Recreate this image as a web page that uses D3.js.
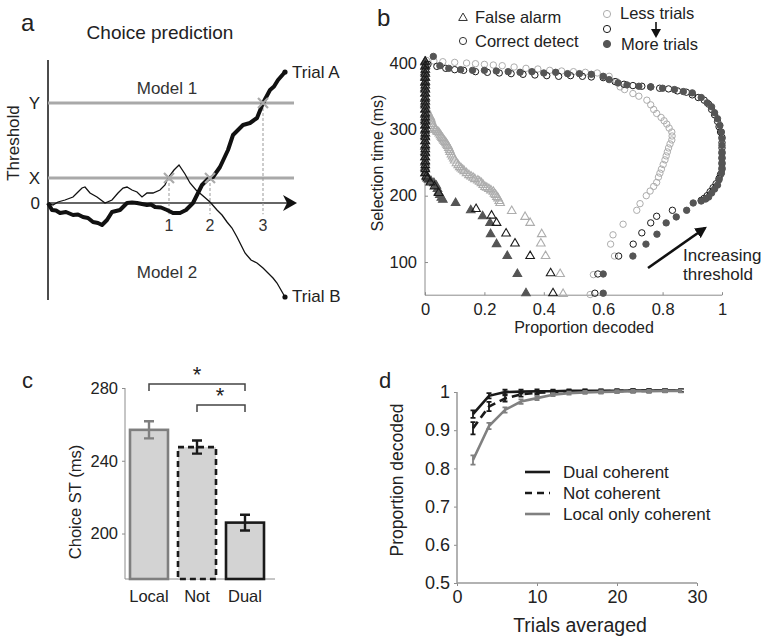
<!DOCTYPE html>
<html>
<head>
<meta charset="utf-8">
<script src="https://cdn.jsdelivr.net/npm/d3@7/dist/d3.min.js"></script>
<style>
  body { margin: 0; background: #fff; }
  svg { display: block; font-family: "Liberation Sans", Arial, sans-serif; }
  .axis path, .axis line { stroke: #8c8c8c; }
  .axis text { fill: #222; font-family: "Liberation Sans", Arial, sans-serif; }
</style>
</head>
<body>
<div id="fig"></div>
<script>
// ---- panel a: two example trials [time, evidence]
var trialA = [[0, 0], [4, -0.28], [8, -0.3], [12, -0.4], [18, -0.36], [25, -0.48], [30, -0.46], [35, -0.56],
  [40, -0.6], [45, -0.76], [50, -0.8], [54, -0.88], [59, -0.68], [64, -0.36], [68, -0.32], [72, -0.28],
  [76, -0.12], [79, 0], [84, 0.02], [89, 0], [94, -0.04], [99, -0.08], [103, -0.06], [107, -0.16],
  [113, -0.18], [119, -0.28], [125, -0.4], [132, -0.4], [138, -0.28], [145, 0], [150, 0.4], [154, 0.72],
  [160, 0.96], [165, 1.04], [172, 1.44], [180, 2.12], [185, 2.72], [190, 2.92], [195, 3.12], [202, 3.2],
  [209, 3.4], [215, 4.0], [222, 4.52], [226, 4.66], [230, 4.92], [237, 5.24]];
var trialB = [[0, 0], [5, -0.08], [10, 0.04], [17, 0.12], [25, 0.24], [30, 0.44], [34, 0.6], [37, 0.64],
  [42, 0.4], [49, 0.24], [57, 0], [64, 0.12], [70, 0.4], [75, 0.6], [79, 0.64], [84, 0.52], [89, 0.44],
  [94, 0.24], [99, 0.4], [105, 0.4], [112, 0.52], [117, 0.72], [120, 1.0], [126, 1.32], [131, 1.52],
  [137, 1.16], [142, 0.8], [148, 0.52], [154, 0.32], [162, 0.04], [169, -0.28], [174, -0.48], [179, -0.76],
  [184, -1.0], [189, -1.36], [197, -2.0], [203, -2.28], [209, -2.4], [215, -2.6], [220, -2.8],
  [225, -3.0], [229, -3.2], [237, -3.76]];
var thresholds = [1, 4];
var thresholdNames = ["X", "Y"];
var crossTimes = [121, 162, 215];
var crossLevels = [1, 1, 4];
var crossNames = ["1", "2", "3"];

// ---- panel b: [proportion decoded, selection time]
var faLess = [[0, 400], [0, 380], [0, 360], [0, 340], [0.005, 330], [0.009, 326], [0.012, 322], [0.015, 320],
  [0.018, 318], [0.02, 315], [0.022, 312], [0.025, 308], [0.028, 305], [0.031, 302], [0.034, 300],
  [0.037, 299], [0.04, 297], [0.044, 296], [0.048, 294], [0.052, 291], [0.055, 289], [0.058, 287],
  [0.061, 285], [0.064, 283], [0.068, 281], [0.071, 279], [0.074, 277], [0.077, 275], [0.08, 272],
  [0.083, 269], [0.085, 266], [0.089, 262], [0.093, 259], [0.097, 256], [0.1, 253], [0.106, 249],
  [0.112, 246], [0.117, 243], [0.122, 241], [0.127, 239], [0.132, 237], [0.14, 234], [0.148, 231],
  [0.155, 229], [0.162, 227], [0.168, 225], [0.178, 223], [0.184, 221], [0.19, 219], [0.196, 216],
  [0.202, 213], [0.208, 212], [0.215, 210], [0.222, 208], [0.23, 206], [0.234, 203], [0.238, 201],
  [0.242, 198], [0.246, 196], [0.25, 192], [0.253, 189],
  [0.292, 177], [0.337, 168], [0.354, 159], [0.393, 142], [0.39, 128], [0.406, 109], [0.455, 82], [0.465, 52]];
var faMid = [[0.001, 402], [0.001, 396], [0.001, 390], [0.001, 384], [0.001, 378], [0.001, 372], [0.001, 366],
  [0.001, 360], [0.001, 354], [0.001, 348], [0.001, 342], [0.001, 336], [0.001, 330], [0.001, 324],
  [0.001, 318], [0.001, 312], [0.001, 306], [0.001, 300], [0.001, 294], [0.001, 288], [0.001, 282],
  [0.001, 276], [0.001, 270], [0.001, 264], [0.001, 258], [0.001, 252], [0.001, 246], [0.001, 240],
  [0.001, 234], [0.004, 229], [0.008, 226], [0.018, 220], [0.032, 214], [0.046, 204],
  [0.172, 180], [0.224, 170], [0.241, 159], [0.273, 143], [0.303, 128], [0.354, 109], [0.423, 83], [0.431, 53]];
var faMore = [[0, 402], [0, 394], [0, 386], [0, 378], [0, 370], [0, 362], [0, 354], [0, 346], [0, 338],
  [0, 330], [0, 322], [0, 314], [0, 306], [0, 298], [0, 290], [0, 282], [0, 274], [0, 266], [0, 258],
  [0, 250], [0, 242], [0, 234], [0.006, 228], [0.012, 224], [0.02, 222], [0.03, 219], [0.038, 215],
  [0.042, 210], [0.045, 205], [0.05, 201], [0.055, 197], [0.06, 194],
  [0.103, 189], [0.154, 178], [0.194, 169], [0.219, 159], [0.221, 142], [0.241, 127], [0.277, 109],
  [0.311, 82], [0.34, 53]];
var cdLess = [[0.005, 404], [0.03, 403], [0.06, 402], [0.1, 401], [0.14, 400], [0.17, 399], [0.2, 398],
  [0.23, 397], [0.26, 396], [0.3, 394], [0.34, 392], [0.38, 391], [0.42, 389], [0.46, 388], [0.5, 387],
  [0.54, 386], [0.58, 385], [0.62, 380], [0.645, 372], [0.657, 364], [0.672, 360], [0.7, 354], [0.72, 350],
  [0.747, 344], [0.76, 337], [0.77, 330], [0.78, 324], [0.795, 318], [0.805, 313], [0.814, 308],
  [0.822, 302], [0.831, 296], [0.832, 290], [0.831, 284], [0.825, 278], [0.82, 272], [0.816, 266],
  [0.812, 260], [0.808, 254], [0.802, 247], [0.796, 240], [0.791, 234], [0.786, 228], [0.78, 220],
  [0.77, 214], [0.758, 207], [0.745, 200], [0.724, 188], [0.713, 178], [0.667, 157], [0.633, 141],
  [0.625, 127], [0.638, 109], [0.567, 81], [0.556, 51]];
var cdMid = [[0.01, 398], [0.04, 395], [0.07, 392], [0.1, 390], [0.13, 389], [0.17, 387], [0.21, 386],
  [0.25, 385], [0.29, 384], [0.33, 383], [0.37, 382], [0.41, 381], [0.45, 380], [0.49, 381], [0.53, 380],
  [0.56, 379], [0.6, 378], [0.64, 372], [0.67, 368], [0.7, 366], [0.73, 365], [0.76, 364], [0.79, 362],
  [0.82, 361], [0.85, 358], [0.88, 356], [0.9, 352], [0.92, 348], [0.94, 344], [0.955, 338], [0.965, 330],
  [0.975, 322], [0.985, 312], [0.99, 304], [0.995, 296], [1, 288], [1, 280], [1, 272], [1, 264], [1, 256],
  [1, 248], [1, 240], [0.995, 232], [0.99, 226], [0.98, 218], [0.97, 212], [0.96, 206], [0.95, 200],
  [0.94, 196], [0.93, 193],
  [0.833, 178], [0.78, 169], [0.76, 159], [0.73, 144], [0.701, 127], [0.652, 109], [0.582, 82], [0.572, 53]];
var cdMore = [[0.028, 410], [0.05, 396], [0.08, 392], [0.12, 390], [0.16, 389], [0.2, 389], [0.24, 388],
  [0.28, 387], [0.32, 386], [0.36, 387], [0.4, 385], [0.44, 386], [0.48, 384], [0.52, 384], [0.56, 383],
  [0.6, 380], [0.62, 375], [0.65, 370], [0.68, 367], [0.72, 365], [0.76, 364], [0.8, 362], [0.84, 360],
  [0.87, 357], [0.9, 355], [0.93, 348], [0.95, 340], [0.965, 334], [0.975, 325], [0.985, 316], [0.993, 306],
  [0.998, 296], [1, 286], [1, 276], [1, 266], [1, 258], [1, 250], [1, 242], [0.998, 234], [0.99, 224],
  [0.985, 216], [0.975, 210], [0.965, 204], [0.955, 198], [0.945, 195], [0.93, 192],
  [0.903, 189], [0.881, 178], [0.846, 168], [0.812, 159], [0.781, 142], [0.744, 127], [0.7, 109],
  [0.6, 82], [0.6, 53]];
var bTicksX = [0, 0.2, 0.4, 0.6, 0.8, 1];
var bTicksY = [100, 200, 300, 400];

// ---- panel c
var groups = ["Local", "Not", "Dual"];
var choiceST = [257, 247.5, 206];
var choiceSE = [4.7, 3.6, 4.3];
var cTicks = [200, 240, 280];

// ---- panel d
var trialsAvg = [2, 4, 6, 8, 10, 12, 14, 16, 18, 20, 22, 24, 26, 28];
var dualCoh = [0.942, 0.99, 1.0, 1.001, 1.002, 1.002, 1.003, 1.003, 1.003, 1.003, 1.004, 1.004, 1.004, 1.004];
var notCoh = [0.905, 0.962, 0.983, 0.994, 0.998, 1.0, 1.001, 1.002, 1.002, 1.003, 1.003, 1.003, 1.004, 1.004];
var localCoh = [0.822, 0.911, 0.953, 0.975, 0.984, 0.993, 0.997, 0.999, 1.0, 1.001, 1.002, 1.002, 1.003, 1.003];
var dualErr = [0.006, 0.003, 0.002, 0.001, 0.001, 0, 0, 0, 0, 0, 0, 0, 0, 0];
var notErr = [0.012, 0.008, 0.004, 0.002, 0.001, 0, 0, 0, 0, 0, 0, 0, 0, 0];
var localErr = [0.008, 0.004, 0.003, 0.002, 0.001, 0, 0, 0, 0, 0, 0, 0, 0, 0];
var dTicksX = [0, 10, 20, 30];
var dTicksY = [0.5, 0.6, 0.7, 0.8, 0.9, 1];

var svg = d3.select("#fig")
  .append("svg")
  .attr("width", 764)
  .attr("height", 643);

var defs = svg.append("defs");
defs.append("marker")
  .attr("id", "head")
  .attr("viewBox", "0 0 10 10")
  .attr("refX", 8).attr("refY", 5)
  .attr("markerWidth", 4.5).attr("markerHeight", 4.5)
  .attr("orient", "auto")
  .append("path")
  .attr("d", "M0,0 L10,5 L0,10 z")
  .style("fill", "#111");

function label(g, x, y, txt, size, anchor, rot) {
  var t = g.append("text")
    .attr("x", x).attr("y", y)
    .attr("text-anchor", anchor || "start")
    .style("font-size", size + "px")
    .style("fill", "#222")
    .text(txt);
  if (rot) t.attr("transform", "rotate(-90," + x + "," + y + ")");
  return t;
}

// ================= panel a =================
var ga = svg.append("g");
var xa = d3.scaleLinear().domain([0, 250]).range([48, 298]);
var ya = d3.scaleLinear().domain([-4, 6]).range([303, 53]);

label(ga, 21, 31, "a", 24);
label(ga, 160, 39, "Choice prediction", 19, "middle");
label(ga, 19, 143, "Threshold", 17, "middle", true);

ga.append("line")
  .attr("x1", xa(0)).attr("x2", xa(0))
  .attr("y1", ya(5.72)).attr("y2", ya(-3.88))
  .style("stroke", "#111").style("stroke-width", 1.5);

ga.selectAll(".thr")
  .data(thresholds)
  .enter()
  .append("line")
  .attr("x1", xa(0)).attr("x2", xa(246))
  .attr("y1", function (d) { return ya(d); })
  .attr("y2", function (d) { return ya(d); })
  .style("stroke", "#a9a9a9").style("stroke-width", 3);

ga.selectAll(".thrlab")
  .data(thresholds)
  .enter()
  .append("text")
  .attr("x", 40)
  .attr("y", function (d) { return ya(d) + 6; })
  .attr("text-anchor", "end")
  .style("font-size", "17px").style("fill", "#222")
  .text(function (d, i) { return thresholdNames[i]; });
label(ga, 40, ya(0) + 6, "0", 17, "end");

// zero axis with arrow
ga.append("line")
  .attr("x1", xa(0)).attr("x2", xa(240))
  .attr("y1", ya(0)).attr("y2", ya(0))
  .style("stroke", "#333").style("stroke-width", 1.6);
ga.append("path")
  .attr("d", "M" + xa(249) + "," + ya(0) + " L" + xa(235) + "," + (ya(0) - 8) +
    " L" + xa(239) + "," + ya(0) + " L" + xa(235) + "," + (ya(0) + 8) + " Z")
  .style("fill", "#111");

// crossing markers
ga.selectAll(".drop")
  .data(crossTimes)
  .enter()
  .append("line")
  .attr("x1", function (d) { return xa(d); })
  .attr("x2", function (d) { return xa(d); })
  .attr("y1", function (d, i) { return ya(crossLevels[i]); })
  .attr("y2", ya(-0.45))
  .style("stroke", "#999").style("stroke-width", 1)
  .style("stroke-dasharray", "3,2");

ga.append("path")
  .datum(trialB)
  .attr("d", d3.line().x(function (d) { return xa(d[0]); }).y(function (d) { return ya(d[1]); }))
  .style("fill", "none").style("stroke", "#111").style("stroke-width", 1.3);
ga.append("path")
  .datum(trialA)
  .attr("d", d3.line().x(function (d) { return xa(d[0]); }).y(function (d) { return ya(d[1]); }))
  .style("fill", "none").style("stroke", "#111").style("stroke-width", 4)
  .style("stroke-linejoin", "round");

[trialA, trialB].forEach(function (tr) {
  var last = tr[tr.length - 1];
  ga.append("circle")
    .attr("cx", xa(last[0])).attr("cy", ya(last[1]))
    .attr("r", 2.6).style("fill", "#111");
});

crossTimes.forEach(function (t, i) {
  var cx = xa(t), cy = ya(crossLevels[i]);
  ga.append("path")
    .attr("d", "M" + (cx - 5) + "," + (cy - 5) + "L" + (cx + 5) + "," + (cy + 5) +
      "M" + (cx - 5) + "," + (cy + 5) + "L" + (cx + 5) + "," + (cy - 5))
    .style("stroke", "#aaa").style("stroke-width", 2.2);
  label(ga, cx, 231, crossNames[i], 16, "middle").style("fill", "#333");
});

label(ga, 292, 78, "Trial A", 17);
label(ga, 292, 302, "Trial B", 17);
label(ga, 167, 94, "Model 1", 17, "middle").style("fill", "#333");
label(ga, 167, 278, "Model 2", 17, "middle").style("fill", "#333");

// ================= panel b =================
var gb = svg.append("g");
var xb = d3.scaleLinear().domain([0, 1]).range([425, 722]);
var yb = d3.scaleLinear().domain([50, 410]).range([295.2, 56.4]);

gb.append("g")
  .attr("class", "axis")
  .attr("transform", "translate(0," + yb(50) + ")")
  .call(d3.axisBottom(xb).tickValues(bTicksX).tickSize(-3).tickPadding(8).tickFormat(d3.format("~g")))
  .selectAll("text").style("font-size", "16.5px");
gb.append("g")
  .attr("class", "axis")
  .attr("transform", "translate(" + xb(0) + ",0)")
  .call(d3.axisLeft(yb).tickValues(bTicksY).tickSize(-3).tickPadding(8))
  .selectAll("text").style("font-size", "16.5px");
gb.selectAll(".axis path").attr("d", null);
gb.append("path")
  .attr("d", "M" + xb(0) + "," + yb(410) + "V" + yb(50) + "H" + xb(1))
  .style("fill", "none").style("stroke", "#8c8c8c").style("stroke-width", 1);

label(gb, 377, 26, "b", 24);
label(gb, 383, 163, "Selection time (ms)", 16, "middle", true);
label(gb, 584, 333, "Proportion decoded", 16, "middle");

var tri = d3.symbol().type(d3.symbolTriangle).size(32);
var lightCol = "#adadad", blackCol = "#1a1a1a", darkCol = "#555";

function triangles(data, stroke, fill) {
  gb.append("g").selectAll("path")
    .data(data)
    .enter()
    .append("path")
    .attr("transform", function (d) { return "translate(" + xb(d[0]) + "," + yb(d[1]) + ")"; })
    .attr("d", tri)
    .style("fill", fill).style("stroke", stroke).style("stroke-width", 1.1);
}
function circles(data, stroke, fill) {
  gb.append("g").selectAll("circle")
    .data(data)
    .enter()
    .append("circle")
    .attr("cx", function (d) { return xb(d[0]); })
    .attr("cy", function (d) { return yb(d[1]); })
    .attr("r", 3.2)
    .style("fill", fill).style("stroke", stroke).style("stroke-width", 1);
}
triangles(faLess, lightCol, "none");
circles(cdLess, lightCol, "none");
triangles(faMore, darkCol, darkCol);
triangles(faMid, blackCol, "none");
circles(cdMid, blackCol, "none");
circles(cdMore, darkCol, darkCol);

// legend
gb.append("path").attr("transform", "translate(463,18)").attr("d", tri)
  .style("fill", "none").style("stroke", "#333");
gb.append("circle").attr("cx", 463).attr("cy", 41).attr("r", 3.6)
  .style("fill", "none").style("stroke", "#333");
label(gb, 475, 23, "False alarm", 16.5);
label(gb, 475, 47, "Correct detect", 16.5);
gb.append("circle").attr("cx", 607).attr("cy", 14).attr("r", 3.6)
  .style("fill", "none").style("stroke", lightCol);
gb.append("circle").attr("cx", 607).attr("cy", 29).attr("r", 3.6)
  .style("fill", "none").style("stroke", blackCol);
gb.append("circle").attr("cx", 607).attr("cy", 44).attr("r", 3.6)
  .style("fill", darkCol).style("stroke", darkCol);
label(gb, 620, 19, "Less trials", 16.5);
label(gb, 621, 50, "More trials", 16.5);
gb.append("line").attr("x1", 656).attr("x2", 656).attr("y1", 22).attr("y2", 30)
  .style("stroke", "#111").style("stroke-width", 1.6);
gb.append("path").attr("d", "M651,29 L661,29 L656,38 Z").style("fill", "#111");

gb.append("line")
  .attr("x1", 648).attr("y1", 268).attr("x2", 705).attr("y2", 228)
  .style("stroke", "#111").style("stroke-width", 2.6)
  .attr("marker-end", "url(#head)");
label(gb, 683, 261, "Increasing", 17);
label(gb, 683, 280, "threshold", 17);

// ================= panel c =================
var gc = svg.append("g");
var xc = d3.scalePoint().domain(groups).range([149, 245]);
var yc = d3.scaleLinear().domain([175, 280]).range([579, 388]);
var barW = 38;

gc.append("g")
  .attr("class", "axis")
  .attr("transform", "translate(125,0)")
  .call(d3.axisLeft(yc).tickValues(cTicks).tickSize(3).tickPadding(4))
  .selectAll("text").style("font-size", "16.5px");
gc.select(".axis path").attr("d", "M0," + yc(280) + "V" + yc(175));
gc.append("line").attr("x1", 125).attr("x2", 275).attr("y1", yc(175)).attr("y2", yc(175))
  .style("stroke", "#8c8c8c");

var barStroke = ["#7f7f7f", "#1a1a1a", "#1a1a1a"];
gc.selectAll(".bar")
  .data(choiceST)
  .enter()
  .append("rect")
  .attr("x", function (d, i) { return xc(groups[i]) - barW / 2; })
  .attr("y", function (d) { return yc(d); })
  .attr("width", barW)
  .attr("height", function (d) { return yc(175) - yc(d); })
  .style("fill", "#d3d3d3")
  .style("stroke", function (d, i) { return barStroke[i]; })
  .style("stroke-width", 2.6)
  .style("stroke-dasharray", function (d, i) { return i === 1 ? "6,4" : null; });

choiceST.forEach(function (m, i) {
  var cx = xc(groups[i]);
  var col = barStroke[i];
  gc.append("path")
    .attr("d", "M" + cx + "," + yc(m - choiceSE[i]) + "V" + yc(m + choiceSE[i]) +
      "M" + (cx - 5) + "," + yc(m - choiceSE[i]) + "H" + (cx + 5) +
      "M" + (cx - 5) + "," + yc(m + choiceSE[i]) + "H" + (cx + 5))
    .style("stroke", col).style("stroke-width", 2.4).style("fill", "none");
  label(gc, cx, 602, groups[i], 16.5, "middle");
});

// significance brackets
function bracket(a, b, top, low, sx) {
  gc.append("path")
    .attr("d", "M" + xc(a) + "," + yc(low) + "V" + yc(top) + "H" + xc(b) + "V" + yc(low))
    .style("fill", "none").style("stroke", "#444").style("stroke-width", 1.5);
  label(gc, sx, yc(top) - 2, "*", 22, "middle");
}
bracket("Local", "Dual", 282.2, 278.3, 197);
bracket("Not", "Dual", 270.6, 266.8, 220);

label(gc, 22, 388, "c", 22);
label(gc, 81, 502, "Choice ST (ms)", 16.5, "middle", true);

// ================= panel d =================
var gd = svg.append("g");
var xd = d3.scaleLinear().domain([0, 30]).range([457, 697]);
var yd = d3.scaleLinear().domain([0.5, 1]).range([583, 392]);

gd.append("g")
  .attr("class", "axis")
  .attr("transform", "translate(0," + yd(0.5) + ")")
  .call(d3.axisBottom(xd).tickValues(dTicksX).tickSize(3).tickPadding(4))
  .selectAll("text").style("font-size", "18px");
gd.append("g")
  .attr("class", "axis")
  .attr("transform", "translate(" + xd(0) + ",0)")
  .call(d3.axisLeft(yd).tickValues(dTicksY).tickSize(3).tickPadding(4).tickFormat(d3.format("~g")))
  .selectAll("text").style("font-size", "18px");
gd.selectAll(".axis path").attr("d", null);
gd.append("path")
  .attr("d", "M" + xd(0) + "," + yd(1) + "V" + yd(0.5) + "H" + xd(30))
  .style("fill", "none").style("stroke", "#999").style("stroke-width", 1.5);

label(gd, 379, 388, "d", 22);
label(gd, 403, 480, "Proportion decoded", 17.5, "middle", true);
label(gd, 580, 632, "Trials averaged", 19.5, "middle");

var lineD = d3.line()
  .x(function (d, i) { return xd(trialsAvg[i]); })
  .y(function (d) { return yd(d); });

var dSeries = [
  { vals: dualCoh, err: dualErr, col: "#1a1a1a", dash: null, name: "Dual coherent" },
  { vals: notCoh, err: notErr, col: "#1a1a1a", dash: "8,5", name: "Not coherent" },
  { vals: localCoh, err: localErr, col: "#808080", dash: null, name: "Local only coherent" }
];

dSeries.forEach(function (s, k) {
  gd.append("path")
    .datum(s.vals)
    .attr("d", lineD)
    .style("fill", "none").style("stroke", s.col).style("stroke-width", 2.6)
    .style("stroke-dasharray", s.dash);
  gd.append("g").selectAll("path")
    .data(s.vals)
    .enter()
    .append("path")
    .attr("d", function (d, i) {
      var x = xd(trialsAvg[i]), lo = yd(d - s.err[i]) + 1.5, hi = yd(d + s.err[i]) - 1.5;
      return "M" + x + "," + lo + "V" + hi + "M" + (x - 2.5) + "," + lo + "H" + (x + 2.5) +
        "M" + (x - 2.5) + "," + hi + "H" + (x + 2.5);
    })
    .style("stroke", s.col).style("stroke-width", 1.8).style("fill", "none");

  var ly = 472 + k * 21;
  gd.append("line")
    .attr("x1", 525).attr("x2", 550).attr("y1", ly).attr("y2", ly)
    .style("stroke", s.col).style("stroke-width", 2.6)
    .style("stroke-dasharray", s.dash ? "7,5" : null);
  label(gd, 563, ly + 6, s.name, 17);
});
</script>
</body>
</html>
